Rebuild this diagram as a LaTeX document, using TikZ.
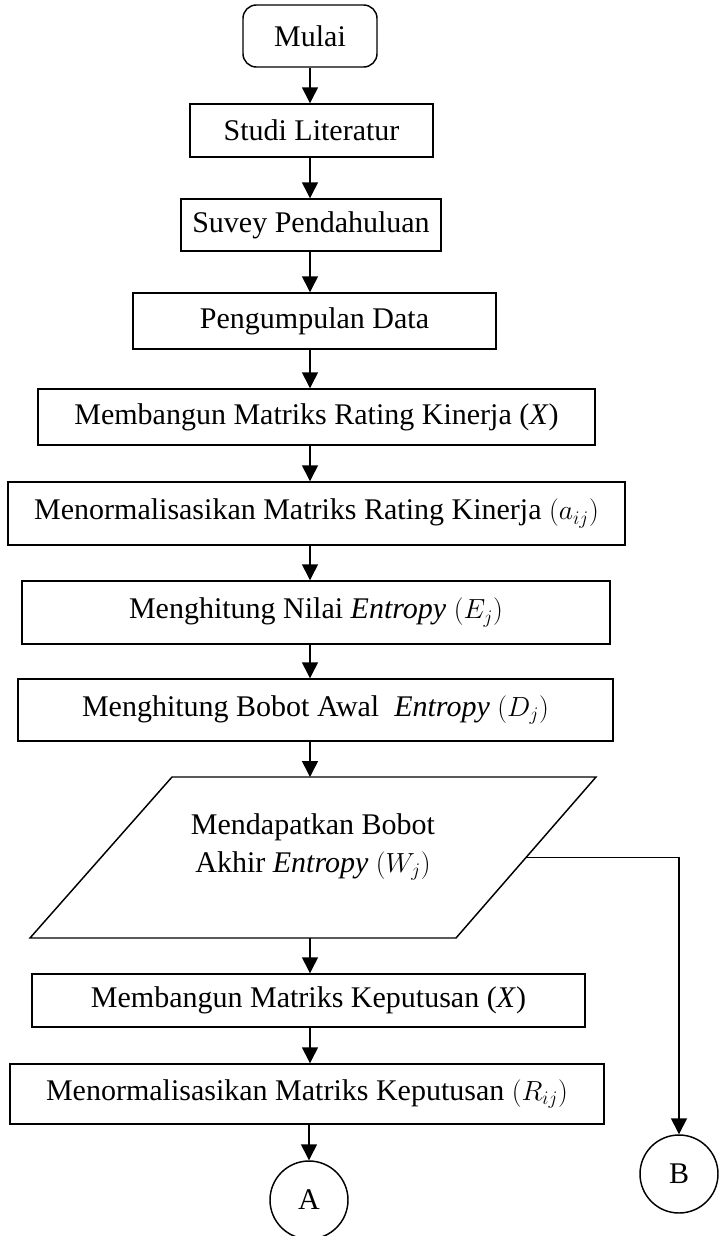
\documentclass[tikz,border=0pt]{standalone}
\usepackage{fontspec}
\setmainfont{Liberation Serif}
\usetikzlibrary{arrows.meta}
\begin{document}
\begin{tikzpicture}[x=0.75pt,y=-0.75pt,
  font=\fontsize{22.5}{26}\selectfont,
  line width=1.1pt,
  bx/.style 2 args={draw, inner sep=0pt, minimum width=#1*0.75pt, minimum height=#2*0.75pt},
  conn/.style={draw, circle, inner sep=0pt, minimum size=78*0.75pt},
  arr/.style={-{Triangle[length=12pt,width=12pt]}}]
\useasboundingbox (0,0) rectangle (719,1236);
\coordinate (ax) at (310,0);
\node[bx={134}{62}, rounded corners=10pt] (mulai) at (310,36) {Mulai};
\node[bx={243}{53}] (studi) at (311.5,130.5) {Studi Literatur};
\node[bx={260}{52}] (suvey) at (311,225) {Suvey Pendahuluan};
\node[bx={363}{56}] (kumpul) at (314.5,321) {Pengumpulan Data};
\node[bx={557}{56}] (mrk) at (316.5,417) {Membangun Matriks Rating Kinerja (\textit{X})};
\node[bx={617}{63}] (nrk) at (316.5,513.5) {Menormalisasikan Matriks Rating Kinerja $(a_{ij})$};
\node[bx={588}{63}] (nilai) at (316,612.5) {Menghitung Nilai \textit{Entropy} $(E_j)$};
\node[bx={595}{62}] (bobot) at (315.5,710) {Menghitung Bobot Awal\ \ \textit{Entropy} $(D_j)$};
\coordinate (p1) at (172,777);
\coordinate (p2) at (596,777);
\coordinate (p3) at (456,938);
\coordinate (p4) at (30,938);
\draw (p1) -- (p2) -- (p3) -- (p4) -- cycle;
\node[align=center, font=\fontsize{22.5}{28.5}\selectfont] (akhir) at (313,847) {Mendapatkan Bobot\\Akhir \textit{Entropy} $(W_j)$};
\coordinate (ptop) at (310,777);
\coordinate (pbot) at (310,938);
\coordinate (pr) at (526,857.5);
\node[bx={553}{53}] (mk) at (308.5,1000.5) {Membangun Matriks Keputusan (\textit{X})};
\node[bx={594}{60}] (nk) at (307,1094) {Menormalisasikan Matriks Keputusan $(R_{ij})$};
\node[conn] (A) at (309,1200) {A};
\node[conn] (B) at (679,1174) {B};
\draw[arr] (mulai.south -| ax) -- (studi.north -| ax);
\draw[arr] (studi.south -| ax) -- (suvey.north -| ax);
\draw[arr] (suvey.south -| ax) -- (kumpul.north -| ax);
\draw[arr] (kumpul.south -| ax) -- (mrk.north -| ax);
\draw[arr] (mrk.south -| ax) -- (nrk.north -| ax);
\draw[arr] (nrk.south -| ax) -- (nilai.north -| ax);
\draw[arr] (nilai.south -| ax) -- (bobot.north -| ax);
\draw[arr] (bobot.south -| ax) -- (ptop);
\draw[arr] (pbot) -- (mk.north -| ax);
\draw[arr] (mk.south -| ax) -- (nk.north -| ax);
\draw[arr] (nk.south -| A) -- (A.north);
\draw[arr] (pr) -| (B.north);
\end{tikzpicture}
\end{document}
